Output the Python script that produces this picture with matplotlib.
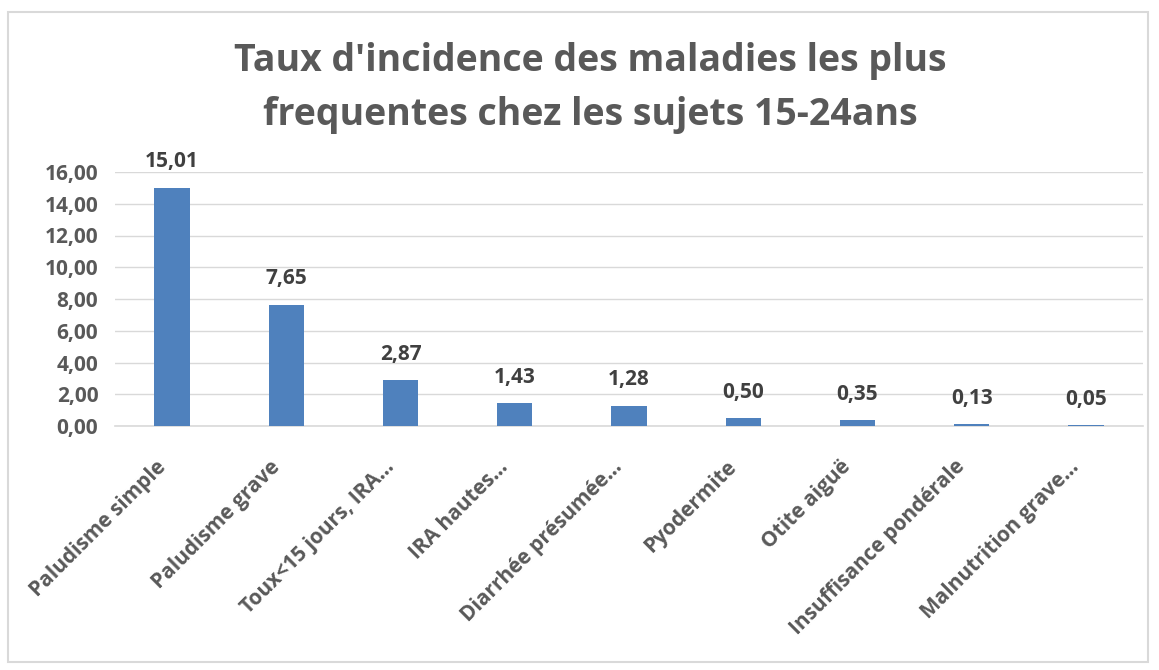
import matplotlib
matplotlib.use("Agg")
import matplotlib.pyplot as plt
from matplotlib.patches import Rectangle
from matplotlib.transforms import ScaledTranslation

categories = ["Paludisme simple", "Paludisme grave", "Toux<15 jours, IRA…",
              "IRA hautes…", "Diarrhée présumée…", "Pyodermite", "Otite aiguë",
              "Insuffisance pondérale", "Malnutrition grave…"]
values = [15.01, 7.65, 2.87, 1.43, 1.28, 0.50, 0.35, 0.13, 0.05]
yticks = [0, 2, 4, 6, 8, 10, 12, 14, 16]
title = "Taux d'incidence des maladies les plus\nfrequentes chez les sujets 15-24ans"

plt.rcParams['font.family'] = ['Open Sans', 'DejaVu Sans']
gray = "#595959"
bar_color = "#4F81BD"

fig = plt.figure(figsize=(11.59, 6.70), dpi=100)
fig.patch.set_facecolor("white")
fig.add_artist(Rectangle((8/1159, 8/670), 1140/1159, 650/670, transform=fig.transFigure,
                         fill=False, edgecolor="#D9D9D9", linewidth=1.5))

ax = fig.add_axes([115/1159, 244/670, 1028/1159, 254/670])
x = range(len(categories))
bars = ax.bar(x, values, width=0.31, color=bar_color, zorder=3)
ax.set_xlim(-0.5, len(categories) - 0.5)
ax.set_ylim(0, 16)
ax.set_yticks(yticks)
ax.set_yticklabels([f"{v:.2f}".replace(".", ",") for v in yticks],
                   fontsize=15, fontweight="bold", color=gray)
ax.yaxis.grid(True, color="#D9D9D9", linewidth=1, zorder=0)
ax.tick_params(axis="y", length=0, pad=12)
ax.tick_params(axis="x", length=0, pad=6)
ax.set_xticks(list(x))
ax.set_xticklabels(categories, rotation=45, ha="right", rotation_mode="anchor",
                   fontsize=15, fontweight="bold", color=gray)
offset = ScaledTranslation(-17/100, -22/100, fig.dpi_scale_trans)
for lbl in ax.get_xticklabels():
    lbl.set_transform(lbl.get_transform() + offset)
for s in ["top", "right", "left"]:
    ax.spines[s].set_visible(False)
ax.spines["bottom"].set_color("#D9D9D9")
ax.spines["bottom"].set_linewidth(1.2)

for rect, v in zip(bars, values):
    ax.annotate(f"{v:.2f}".replace(".", ","), (rect.get_x() + rect.get_width()/2, v),
                xytext=(0, 11), textcoords="offset points", ha="center", va="bottom",
                fontsize=15, fontweight="bold", color="#404040")

fig.text(590/1159, 1 - 88/670, title, ha="center", va="center", fontsize=27,
         fontweight="bold", color=gray, linespacing=1.55)

fig.savefig("out.png", dpi=100, facecolor="white")
